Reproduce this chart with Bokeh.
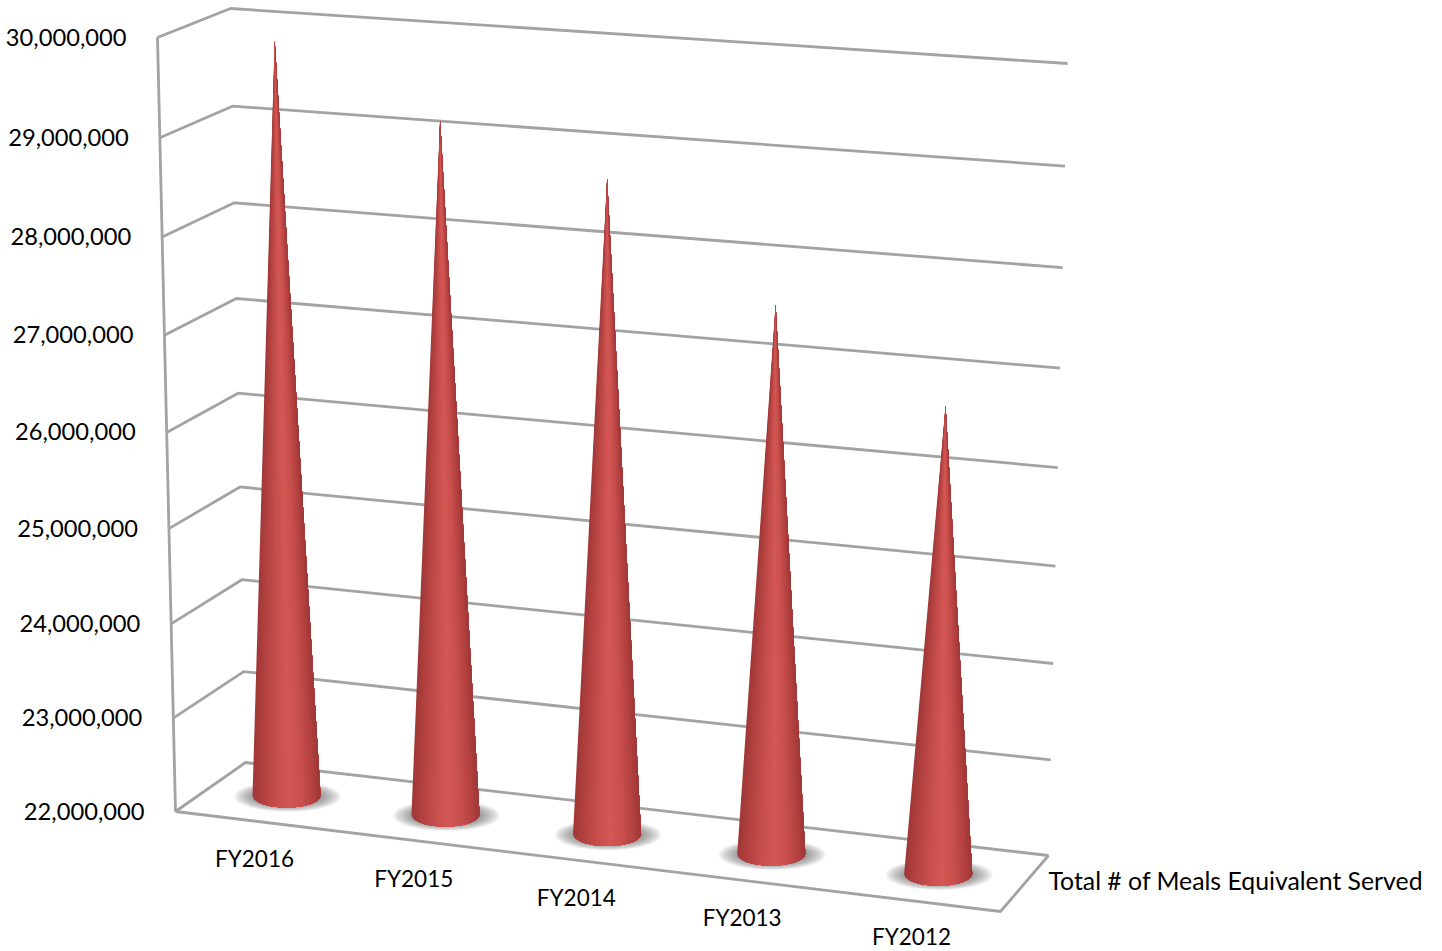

import math
from bokeh.plotting import figure
from bokeh.embed import file_html
from bokeh.resources import INLINE
from bokeh.core.properties import value

# ---- data ----
categories = ["FY2016", "FY2015", "FY2014", "FY2013", "FY2012"]
meals = [29870000, 29190000, 28730000, 27610000, 26750000]
axis_ticks = [22000000, 23000000, 24000000, 25000000, 26000000, 27000000, 28000000, 29000000, 30000000]
series_name = "Total # of Meals Equivalent Served"

V0, V1 = axis_ticks[0], axis_ticks[-1]
K = 0.96

def persp(s):
    return s * K / (1 + s * (K - 1))

def frac(v):
    return persp((v - V0) / (V1 - V0))

def lerp(a, b, t):
    return (a[0] + (b[0] - a[0]) * t, a[1] + (b[1] - a[1]) * t)

# projected frame of the 3D box
FRONT_L = ((175, 811), (157, 37))
BACK_L = ((245, 762), (230, 8))
BACK_R = ((1048, 855), (1067, 63))
FRONT_R_BOTTOM = (1000, 911)
# plane that holds the cones
CONE_L = ((207.5, 785.6), (192.5, 22))
CONE_R = ((1022.2, 883.4), (1038, 78))

def on_cone_plane(u, v):
    s = frac(v)
    return lerp(lerp(CONE_L[0], CONE_L[1], s), lerp(CONE_R[0], CONE_R[1], s), persp(u))

p = figure(width=1442, height=951, x_range=(0, 1442), y_range=(951, 0),
           output_backend="svg", toolbar_location=None, min_border=0,
           outline_line_color=None, background_fill_color="white")
p.axis.visible = False
p.grid.visible = False

GRID = "#a3a3a3"
LW = 2.8
xs, ys = [], []
for t in axis_ticks:
    s = frac(t)
    a, b, c = lerp(*FRONT_L, s), lerp(*BACK_L, s), lerp(*BACK_R, s)
    xs.append([a[0], b[0], c[0]])
    ys.append([a[1], b[1], c[1]])
p.multi_line(xs, ys, line_color=GRID, line_width=LW)
p.line([FRONT_L[0][0], FRONT_L[1][0]], [FRONT_L[0][1], FRONT_L[1][1]], line_color=GRID, line_width=LW)
p.line([FRONT_L[0][0], FRONT_R_BOTTOM[0], BACK_R[0][0]], [FRONT_L[0][1], FRONT_R_BOTTOM[1], BACK_R[0][1]],
       line_color=GRID, line_width=LW)

# shadows
LAYERS = 24
for i, m in enumerate(meals):
    cx, cy = on_cone_plane((i + 0.5) / 5, V0)
    for j in range(LAYERS):
        f = 1 - j / LAYERS
        p.ellipse([cx + 1], [cy + 1], width=[108 * f + 60 * (1 - f)], height=[31 * f + 16 * (1 - f)],
                  fill_color="#4a4a4a", fill_alpha=0.035, line_color=None)

# cones
STOPS = [(-1.0, (158, 56, 56)), (-0.75, (176, 64, 62)), (-0.3, (198, 78, 76)), (0.1, (212, 88, 85)),
         (0.5, (198, 78, 76)), (0.85, (174, 62, 61)), (1.0, (158, 56, 56))]

def shade(t):
    for (a, ca), (b, cb) in zip(STOPS, STOPS[1:]):
        if t <= b:
            f = (t - a) / (b - a)
            c = [round(x + (y - x) * f) for x, y in zip(ca, cb)]
            return "#%02x%02x%02x" % tuple(c)
    return "#9e3838"

RADIUS, RY, N = 34, 12, 48
for i, m in enumerate(meals):
    u = (i + 0.5) / 5
    cx, cy = on_cone_plane(u, V0)
    ax, ay = on_cone_plane(u, m)
    px, py, cols = [], [], []
    for k in range(N):
        t0 = -1 + 2 * k / N
        steps = N - k
        pts = [t0 + (1 - t0) * q / (steps * 2) for q in range(steps * 2 + 1)]
        bx = [cx + RADIUS * t for t in pts]
        by = [cy + RY * math.sqrt(max(0, 1 - t * t)) for t in pts]
        px.append([ax] + bx)
        py.append([ay] + by)
        cols.append(shade(t0 + 1 / N))
    p.patches(px, py, fill_color=cols, line_color=None)

FONT = value("Lato")
# value labels
lx, ly, lt = [], [], []
for t in axis_ticks:
    a = lerp(*FRONT_L, frac(t))
    lx.append(a[0] - 31)
    ly.append(a[1] - 0.5)
    lt.append(f"{t:,}")
p.text(lx, ly, text=lt, text_font=FONT, text_font_size="23.7px", text_align="right", text_baseline="middle",
       text_color="#000000")
# category labels
p.text([254 + persp(i / 4) * 657 for i in range(5)], [858 + i * 19.6 for i in range(5)], text=categories, text_font=FONT,
       text_font_size="22.5px", text_align="center", text_baseline="middle", text_color="#000000")
p.text([1048], [880], text=[series_name], text_font=FONT, text_font_size="24.8px", text_align="left",
       text_baseline="middle", text_color="#000000")

open("out.html", "w").write(file_html(p, INLINE))
